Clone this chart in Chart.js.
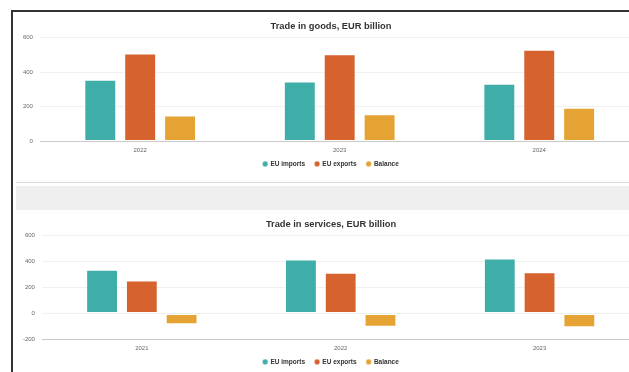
<!DOCTYPE html>
<html><head><meta charset="utf-8">
<script src="https://cdn.jsdelivr.net/npm/chart.js@4.4.1/dist/chart.umd.min.js"></script>
<style>
html,body{margin:0;padding:0;width:629px;height:372px;overflow:hidden;background:#fff;}
#frame{position:absolute;left:11px;top:10px;width:700px;height:400px;border-left:2px solid #333;border-top:2px solid #333;}
#sep{position:absolute;left:16px;top:182px;width:700px;height:1px;background:#dcdcdc;}
#band{position:absolute;left:16px;top:186px;width:700px;height:24px;background:#efefef;}
canvas{position:absolute;left:16px;}
</style></head>
<body>
<div id="frame"></div><div id="sep"></div><div id="band"></div>
<canvas id="goods" width="630" height="174" style="top:12px"></canvas>
<canvas id="services" width="630" height="174" style="top:210px"></canvas>
<script>
const goodsYears = ['2022', '2023', '2024'];
const goodsImports = [356, 346, 333];
const goodsExports = [506, 502, 528];
const goodsBalance = [150, 157, 195];
const goodsTicks = [0, 200, 400, 600];

const servicesYears = ['2021', '2022', '2023'];
const servicesImports = [336, 414, 422];
const servicesExports = [254, 313, 316];
const servicesBalance = [-82, -101, -105];
const servicesTicks = [-200, 0, 200, 400, 600];

const seriesNames = ['EU imports', 'EU exports', 'Balance'];
const seriesColors = ['#3fada8', '#d6622d', '#e5a333'];

Chart.defaults.font.family = "'Liberation Sans', Arial, sans-serif";

const legendShift = {
  id: 'legendShift',
  afterLayout(chart) {
    if (chart.legend) { chart.legend.top -= 8.1; chart.legend.bottom -= 8.1; }
  }
};

function makeChart(id, title, cats, imp, exp, bal, ticks) {
  const series = [imp, exp, bal];
  new Chart(document.getElementById(id), {
    type: 'bar',
    data: {
      labels: cats,
      datasets: series.map((d, i) => ({
        label: seriesNames[i],
        data: d,
        backgroundColor: seriesColors[i],
        borderColor: 'rgba(255,255,255,0.45)',
        borderWidth: 1,
        borderSkipped: false,
        categoryPercentage: 0.6,
        barPercentage: 0.8
      }))
    },
    plugins: [legendShift],
    options: {
      responsive: false,
      animation: false,
      devicePixelRatio: 1,
      layout: { padding: { left: 7, right: 7, top: 0, bottom: 0.7 } },
      plugins: {
        title: {
          display: true, text: title, color: '#333',
          font: { size: 9.3, weight: 'bold' },
          padding: { top: 9.1, bottom: 5.0 }
        },
        legend: {
          position: 'bottom',
          labels: {
            usePointStyle: true, pointStyle: 'circle',
            boxWidth: 4, boxHeight: 4, padding: 10,
            color: '#333', font: { size: 6.5, weight: 'bold' }
          }
        },
        tooltip: { enabled: false }
      },
      scales: {
        x: {
          grid: { display: false, drawTicks: false },
          border: { display: true, color: '#c8c8c8', width: 1 },
          ticks: { padding: 5, color: '#666', font: { size: 6 } }
        },
        y: {
          min: ticks[0], max: ticks[ticks.length - 1],
          grid: { color: '#f0f0f0', drawTicks: false },
          border: { display: false },
          ticks: { stepSize: ticks[1] - ticks[0], padding: 7.5, color: '#666', font: { size: 6 } },
          afterFit: s => { s.width -= 7.6; }
        }
      }
    }
  });
}

makeChart('goods', 'Trade in goods, EUR billion', goodsYears, goodsImports, goodsExports, goodsBalance, goodsTicks);
makeChart('services', 'Trade in services, EUR billion', servicesYears, servicesImports, servicesExports, servicesBalance, servicesTicks);
</script>
</body></html>
